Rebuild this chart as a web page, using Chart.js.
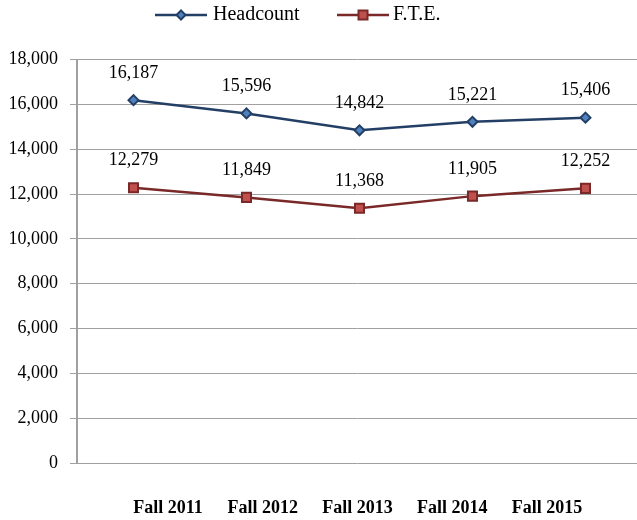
<!DOCTYPE html>
<html>
<head>
<meta charset="utf-8">
<script src="https://cdn.jsdelivr.net/npm/chart.js@4/dist/chart.umd.min.js"></script>
<style>
html,body{margin:0;padding:0;background:#fff;}
#wrap{width:637px;height:520px;position:relative;}
</style>
</head>
<body>
<div id="wrap"><canvas id="c" width="637" height="520"></canvas></div>
<script>
const categories = ['Fall 2011', 'Fall 2012', 'Fall 2013', 'Fall 2014', 'Fall 2015'];
const headcount = [16187, 15596, 14842, 15221, 15406];
const fte = [12279, 11849, 11368, 11905, 12252];
const yTicks = [0, 2000, 4000, 6000, 8000, 10000, 12000, 14000, 16000, 18000];
const seriesNames = ['Headcount', 'F.T.E.'];

const SERIF = '"Liberation Serif", "Times New Roman", serif';
const navy = '#243F66', navyFill = '#4F81BD';
const red = '#7A2828', redFill = '#C0504D';

const fmt = v => v.toLocaleString('en-US');

const dataLabels = {
  id: 'dataLabels',
  afterDatasetsDraw(chart) {
    const ctx = chart.ctx;
    ctx.save();
    ctx.font = '18px ' + SERIF;
    ctx.fillStyle = '#000';
    ctx.textAlign = 'center';
    ctx.textBaseline = 'middle';
    chart.data.datasets.forEach((ds, i) => {
      const meta = chart.getDatasetMeta(i);
      meta.data.forEach((pt, j) => {
        ctx.fillText(fmt(ds.data[j].y), pt.x, pt.y - 27);
      });
    });
    ctx.restore();
  }
};

const customLegend = {
  id: 'customLegend',
  afterDraw(chart) {
    const ctx = chart.ctx;
    const items = [{x: 155, tx: 213}, {x: 337, tx: 393}];
    const y = 15;
    ctx.save();
    chart.data.datasets.forEach((ds, i) => {
      const it = items[i];
      ctx.strokeStyle = ds.borderColor;
      ctx.lineWidth = 2.5;
      ctx.beginPath(); ctx.moveTo(it.x, y); ctx.lineTo(it.x + 52, y); ctx.stroke();
      const cx = it.x + 26;
      ctx.lineWidth = 2;
      ctx.fillStyle = ds.pointBackgroundColor;
      ctx.strokeStyle = ds.pointBorderColor;
      ctx.beginPath();
      if (i === 0) {
        ctx.moveTo(cx, y - 4.5); ctx.lineTo(cx + 4.5, y); ctx.lineTo(cx, y + 4.5); ctx.lineTo(cx - 4.5, y); ctx.closePath();
      } else {
        ctx.rect(cx - 4.5, y - 4.5, 9, 9);
      }
      ctx.fill(); ctx.stroke();
      ctx.fillStyle = '#000';
      ctx.font = '20px ' + SERIF;
      ctx.textAlign = 'left';
      ctx.textBaseline = 'middle';
      ctx.fillText(ds.label, it.tx, y);
    });
    ctx.restore();
  }
};

new Chart(document.getElementById('c'), {
  type: 'line',
  data: {
    datasets: [
      {
        label: seriesNames[0],
        data: headcount.map((v, i) => ({x: i, y: v})),
        borderColor: navy, backgroundColor: navyFill,
        borderWidth: 2.5, pointStyle: 'rectRot', pointRadius: 5,
        pointBorderColor: navy, pointBackgroundColor: navyFill, pointBorderWidth: 2,
        tension: 0, xAxisID: 'x', yAxisID: 'y'
      },
      {
        label: seriesNames[1],
        data: fte.map((v, i) => ({x: i, y: v})),
        borderColor: red, backgroundColor: redFill,
        borderWidth: 2.5, pointStyle: 'rect', pointRadius: 6.4,
        pointBorderColor: red, pointBackgroundColor: redFill, pointBorderWidth: 2,
        tension: 0, xAxisID: 'x', yAxisID: 'y'
      }
    ]
  },
  options: {
    responsive: false,
    animation: false,
    layout: {autoPadding: false, padding: {left: 0, right: 0, top: 59.5, bottom: 0}},
    plugins: {
      tooltip: {enabled: false},
      legend: {display: false}
    },
    scales: {
      x: {
        type: 'linear', display: false,
        min: -0.5, max: 4.456
      },
      x2: {
        type: 'linear', position: 'bottom',
        min: -0.960, max: 4.950,
        grid: {display: false, drawTicks: false}, border: {display: false},
        afterBuildTicks(scale) { scale.ticks = categories.map((c, i) => ({value: i})); },
        afterFit(scale) { scale.height = 57; scale.paddingLeft = 0; scale.paddingRight = 0; },
        ticks: {
          padding: 35,
          color: '#000',
          font: {family: SERIF, size: 18, weight: 'bold'},
          maxRotation: 0, autoSkip: false,
          callback: v => categories[v]
        }
      },
      y: {
        min: 0, max: 18000,
        afterBuildTicks(scale) { scale.ticks = yTicks.map(v => ({value: v})); },
        afterFit(scale) { scale.width = 77; },
        grid: {color: '#A0A0A0', lineWidth: 1, tickLength: 7, drawTicks: true},
        border: {color: '#A0A0A0', width: 2},
        ticks: {
          padding: 12, color: '#000',
          font: {family: SERIF, size: 18},
          callback: v => fmt(v)
        }
      }
    }
  },
  plugins: [dataLabels, customLegend]
});
</script>
</body>
</html>
